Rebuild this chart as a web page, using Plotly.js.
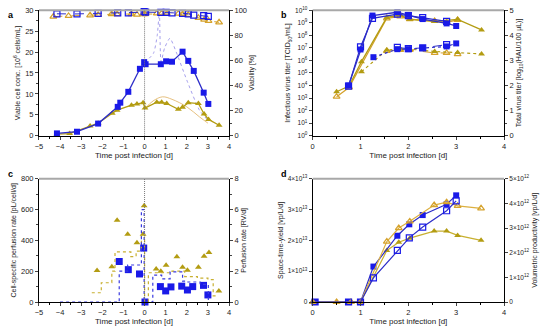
<!DOCTYPE html>
<html><head><meta charset="utf-8">
<script src="https://cdn.plot.ly/plotly-3.0.1.min.js"></script>
<style>body{margin:0;background:#fff}#plot{width:550px;height:330px}</style>
</head><body><div id="plot"></div><script>
// ---------- Panel a ----------
const aBlueX = [-4.15, -3.2, -2.2, -1.27, -1.15, -0.77, -0.22, -0.02, 0.05, 0.77, 1.02, 1.3, 1.8, 2.07, 2.33, 2.8, 3.02];
const aBlueY = [0.55, 0.95, 2.9, 6.9, 7.9, 10.5, 16.0, 17.6, 17.1, 17.1, 17.8, 17.7, 20.1, 17.9, 15.5, 10.3, 7.6];
const aGoldX = [-4.15, -3.55, -2.58, -2.2, -1.53, -1.3, -0.62, -0.36, -0.07, 0.02, 0.58, 0.81, 1.05, 1.6, 1.8, 2.07, 2.55, 2.82, 3.03, 3.53];
const aGoldY = [0.4, 0.5, 2.3, 3.0, 5.4, 6.1, 7.3, 7.6, 7.9, 6.6, 8.0, 8.0, 7.7, 6.3, 6.8, 7.9, 7.7, 5.2, 3.9, 2.5];
const aBlueViabX = [-4.15, -3.2, -2.2, -1.27, -0.77, -0.02, 0.05, 0.77, 1.02, 1.3, 1.8, 2.07, 2.33, 2.8, 3.02];
const aBlueViabY = [97.2, 97.1, 97.6, 98.0, 98.0, 98.9, 98.5, 98.3, 98.3, 98.0, 97.6, 97.2, 96.2, 95.8, 95.2];
const aGoldViabX = [-4.32, -3.6, -2.58, -2.2, -1.56, -1.3, -0.62, -0.36, -0.07, 0.02, 0.58, 0.81, 1.05, 1.6, 1.8, 2.07, 2.55, 2.82, 3.03, 3.53];
const aGoldViabY = [95.0, 95.5, 96.0, 96.3, 97.0, 97.0, 97.0, 96.6, 97.0, 97.0, 97.6, 97.6, 97.4, 97.4, 97.0, 96.4, 94.0, 92.5, 91.6, 90.4];
const aThinBlueX = [0, 0.42, 0.6, 0.7, 0.78, 0.95, 1.2, 1.5, 2.0, 2.6, 3.0];
const aThinBlueY = [17.5, 19.7, 24, 29.5, 17.7, 21, 23.3, 20, 13.3, 6.1, 3.7];
const aThinGoldX = [0, 0.4, 0.85, 1.3, 2.0, 2.6, 3.0];
const aThinGoldY = [6.4, 8.3, 9.3, 8.7, 6.9, 4.5, 3.0];

// ---------- Panel b ----------
const bBlueX = [0.75, 1.0, 1.25, 1.77, 2.0, 2.3, 2.8, 3.0];
const bBlueFilled = [1.0e4, 7.5e6, 3.8e9, 7.0e9, 4.3e9, 2.0e9, 9.0e8, 5.6e8];
const bBlueOpenX = [0.75, 1.0, 1.25, 1.77, 2.0, 2.3, 2.8];
const bBlueOpen = [9.0e3, 1.2e7, 2.3e9, 5.0e9, 3.8e9, 2.6e9, 1.3e9];
const bGoldX = [0.5, 0.76, 1.02, 1.55, 1.83, 2.03, 2.55, 3.03, 3.53];
const bGoldFilled = [3.2e3, 9.0e3, 8.0e5, 2.7e9, 4.2e9, 1.9e9, 1.3e9, 1.9e9, 2.7e8];
const bGoldOpenX = [0.5, 0.76, 1.55, 1.83, 2.03, 2.55, 2.8, 3.03];
const bGoldOpen = [1.3e3, 7.0e3, 2.3e9, 3.2e9, 2.0e9, 1.4e9, 1.1e9, 1.7e9];
const bBlueTotX = [1.27, 1.77, 2.0, 2.3, 2.8, 3.0];
const bBlueTot = [3.13, 3.45, 3.45, 3.5, 3.56, 3.68];
const bBlueTotOpenX = [1.77, 2.0, 2.3, 2.8];
const bBlueTotOpen = [3.52, 3.47, 3.5, 3.63];
const bGoldTotX = [1.02, 1.55, 1.83, 2.03, 2.55, 3.03, 3.53];
const bGoldTot = [2.55, 3.42, 3.45, 3.45, 3.36, 3.32, 3.26];
const bGoldTotOpenX = [1.55, 1.83, 2.03, 2.55, 2.8, 3.03];
const bGoldTotOpen = [3.38, 3.42, 3.42, 3.3, 3.3, 3.25];

// ---------- Panel c ----------
const cGoldX = [-2.25, -1.55, -1.3, -0.8, -0.36, -0.07, -0.02, 0.55, 0.77, 1.02, 1.53, 1.8, 2.03, 2.55, 2.82, 3.05, 3.52];
const cGoldY = [205, 228, 530, 440, 385, 440, 625, 215, 200, 238, 293, 226, 206, 226, 297, 322, 72];
const cBlueX = [-1.2, -0.77, -0.24, -0.04, 0.02, 0.75, 1.0, 1.25, 1.76, 2.03, 2.28, 2.79, 3.0];
const cBlueY = [263, 210, 182, 350, 0, 100, 72, 98, 103, 78, 100, 108, 46];
const cBlueRateX = [-4, -1.2, -0.8, -0.15, -0.02, 0.39, 0.81, 1.21, 1.8, 2.0, 2.63, 3.02];
const cBlueRateY = [0, 2.0, 2.4, 6.0, 0, 1.75, 1.5, 1.95, 1.35, 1.3, 1.15, 0];
const cGoldRateX = [-2.5, -2.05, -1.55, -1.4, -0.65, -0.4, -0.15, 0.0, 0.18, 1.3, 1.9, 2.5, 3.0, 3.25, 3.45];
const cGoldRateY = [0.6, 1.25, 2.0, 3.25, 2.95, 3.3, 4.4, 0, 1.9, 2.0, 1.65, 1.55, 1.45, 0.4, 0.4];

// ---------- Panel d ----------
const dBlueX = [0.05, 0.75, 1.0, 1.27, 1.77, 2.02, 2.3, 2.8, 3.0];
const dBlueSTY = [0, 0, 0, 1.15e13, 2.15e13, 2.52e13, 2.82e13, 3.17e13, 3.46e13];
const dBlueVP = [0, 0, 0, 0.98e12, 2.09e12, 2.6e12, 3.04e12, 3.7e12, 4.1e12];
const dGoldX = [0, 0.5, 0.8, 1.0, 1.55, 1.8, 2.03, 2.54, 2.8, 3.03, 3.52];
const dGoldSTY = [0, 0, 0, 0, 1.67e13, 1.94e13, 2.07e13, 2.3e13, 2.3e13, 2.16e13, 2.0e13];
const dGoldVP = [0, 0, 0, 0, 2.45e12, 3.0e12, 3.27e12, 3.93e12, 4.05e12, 3.9e12, 3.8e12];

const BLUE = '#1a1ae8', BLUEL = '#2d2dc8', GOLD = '#b39c12', GOLDO = '#d5a22c', THINB = '#8e86e6', THING = '#e0b060';
const FONT = 'Liberation Sans, Arial, sans-serif';

function tr(x, y, xa, ya, o) {
  return Object.assign({x: x, y: y, xaxis: xa, yaxis: ya, type: 'scatter', mode: 'lines+markers', showlegend: false, cliponaxis: false}, o);
}
const sqF = c => ({symbol: 'square', size: 6, color: c});
const sqO = c => ({symbol: 'square-open', size: 6, color: c, line: {width: 1.2, color: c}});
const trF = c => ({symbol: 'triangle-up', size: 6, color: c});
const trO = c => ({symbol: 'triangle-up-open', size: 6, color: c, line: {width: 1.2, color: c}});

const data = [
  // a
  tr(aThinBlueX, aThinBlueY, 'x', 'y', {mode: 'lines', line: {color: THINB, width: 0.8, dash: 'dot', shape: 'spline', smoothing: 0.6}}),
  tr(aThinGoldX, aThinGoldY, 'x', 'y', {mode: 'lines', line: {color: THING, width: 0.8, shape: 'spline'}}),
  tr(aGoldX, aGoldY, 'x', 'y', {line: {color: GOLD, width: 1.3}, marker: trF(GOLD)}),
  tr(aBlueX, aBlueY, 'x', 'y', {line: {color: BLUEL, width: 1.3}, marker: sqF(BLUE)}),
  tr(aGoldViabX, aGoldViabY, 'x', 'y2', {line: {color: GOLDO, width: 1, dash: 'dash'}, marker: trO(GOLDO)}),
  tr(aBlueViabX, aBlueViabY, 'x', 'y2', {line: {color: BLUEL, width: 1, dash: 'dash'}, marker: sqO(BLUE)}),
  // b
  tr(bGoldOpenX, bGoldOpen, 'x2', 'y3', {line: {color: GOLDO, width: 1.2}, marker: trO(GOLDO)}),
  tr(bGoldX, bGoldFilled, 'x2', 'y3', {line: {color: GOLD, width: 1.3}, marker: trF(GOLD)}),
  tr(bBlueOpenX, bBlueOpen, 'x2', 'y3', {line: {color: BLUEL, width: 1.2}, marker: sqO(BLUE)}),
  tr(bBlueX, bBlueFilled, 'x2', 'y3', {line: {color: BLUEL, width: 1.3}, marker: sqF(BLUE)}),
  tr(bGoldTotOpenX, bGoldTotOpen, 'x2', 'y4', {line: {color: GOLDO, width: 1, dash: 'dash'}, marker: trO(GOLDO)}),
  tr(bGoldTotX, bGoldTot, 'x2', 'y4', {line: {color: GOLD, width: 1.2, dash: 'dot'}, marker: trF(GOLD)}),
  tr(bBlueTotOpenX, bBlueTotOpen, 'x2', 'y4', {line: {color: BLUEL, width: 1, dash: 'dash'}, marker: sqO(BLUE)}),
  tr(bBlueTotX, bBlueTot, 'x2', 'y4', {line: {color: BLUEL, width: 1.2, dash: 'dot'}, marker: sqF(BLUE)}),
  // c
  tr(cGoldRateX, cGoldRateY, 'x3', 'y6', {mode: 'lines', line: {color: '#c8b030', width: 1.2, dash: 'dot', shape: 'hv'}}),
  tr(cBlueRateX, cBlueRateY, 'x3', 'y6', {mode: 'lines', line: {color: '#3a3ae0', width: 1.2, dash: 'dot', shape: 'hv'}}),
  tr(cGoldX, cGoldY, 'x3', 'y5', {mode: 'markers', marker: trF(GOLD)}),
  tr(cBlueX, cBlueY, 'x3', 'y5', {mode: 'markers', marker: {symbol: 'square', size: 7, color: BLUE}}),
  // d
  tr(dGoldX, dGoldVP, 'x4', 'y8', {line: {color: '#dcb040', width: 1.2}, marker: trO(GOLDO)}),
  tr(dGoldX, dGoldSTY, 'x4', 'y7', {line: {color: '#c8b030', width: 1.2}, marker: trF(GOLD)}),
  tr(dBlueX, dBlueVP, 'x4', 'y8', {line: {color: BLUEL, width: 1.2}, marker: sqO(BLUE)}),
  tr(dBlueX, dBlueSTY, 'x4', 'y7', {line: {color: BLUEL, width: 1.2}, marker: sqF(BLUE)})
];

const XA = [0.0709, 0.4164], XB = [0.5685, 0.9164];
const YT = [0.5888, 0.9688], YB = [0.0848, 0.4585];
const tf = {family: FONT, size: 7.5, color: '#222'};
const tfs = {family: FONT, size: 6.5, color: '#222'};
const ttf = {family: FONT, size: 8, color: '#222'};
const ttfy = {family: FONT, size: 7, color: '#222'};
function xax(dom, anchor, range) {
  return {domain: dom, anchor: anchor, range: range, dtick: 1, tick0: 0, showgrid: false, zeroline: false,
    showline: true, linecolor: '#000', linewidth: 1, ticks: 'outside', ticklen: 3, tickwidth: 1,
    minor: {ticks: 'outside', ticklen: 2, dtick: 0.5, tickcolor: '#000'},
    tickfont: tf, title: {text: 'Time post infection [d]', font: ttf, standoff: 1}};
}
function yax(dom, anchor, range, dtick, title, extra) {
  return Object.assign({domain: dom, anchor: anchor, range: range, dtick: dtick, showgrid: false, zeroline: false,
    showline: true, linecolor: '#000', linewidth: 1, ticks: 'outside', ticklen: 3, tickwidth: 1,
    tickfont: tf, title: {text: title, font: ttfy, standoff: 3}}, extra || {});
}
const pow10 = [0,1,2,3,4,5,6,7,8,9,10];
const layout = {
  width: 550, height: 330, margin: {l: 0, r: 0, t: 0, b: 0},
  paper_bgcolor: '#fff', plot_bgcolor: '#fff', font: {family: FONT, size: 8, color: '#222'},
  showlegend: false,
  xaxis: xax(XA, 'y', [-5, 4]),
  xaxis2: xax(XB, 'y3', [0, 4]),
  xaxis3: xax(XA, 'y5', [-5, 4]),
  xaxis4: xax(XB, 'y7', [0, 4]),
  yaxis: yax(YT, 'x', [0, 30], 5, 'Viable cell conc. [10<sup>6</sup> cells/mL]', {minor: {ticks: 'outside', ticklen: 2, dtick: 2.5}}),
  yaxis2: yax(YT, 'x', [0, 100], 20, 'Viability [%]', {overlaying: 'y', side: 'right', minor: {ticks: 'outside', ticklen: 2, dtick: 10}}),
  yaxis3: yax(YT, 'x2', [0, 10], null, 'Infectious virus titer [TCID<sub>50</sub>/mL]',
    {type: 'log', tickvals: pow10.map(p => Math.pow(10, p)), ticktext: pow10.map(p => '10<sup>' + p + '</sup>'), tickfont: tfs}),
  yaxis4: yax(YT, 'x2', [0, 5], 1, 'Total virus titer [log<sub>10</sub>(HAU/100 µL)]', {overlaying: 'y3', side: 'right', minor: {ticks: 'outside', ticklen: 2, dtick: 0.5}}),
  yaxis5: yax(YB, 'x3', [0, 800], 200, 'Cell-specific perfusion rate [pL/cell/d]', {minor: {ticks: 'outside', ticklen: 2, dtick: 100}}),
  yaxis6: yax(YB, 'x3', [0, 8], 2, 'Perfusion rate [RV/d]', {overlaying: 'y5', side: 'right', minor: {ticks: 'outside', ticklen: 2, dtick: 1}}),
  yaxis7: yax(YB, 'x4', [0, 4e13], null, 'Space-time-yield [vp/L/d]',
    {tickvals: [0, 1e13, 2e13, 3e13, 4e13], ticktext: ['0', '1×10<sup>13</sup>', '2×10<sup>13</sup>', '3×10<sup>13</sup>', '4×10<sup>13</sup>'], tickfont: tfs}),
  yaxis8: yax(YB, 'x4', [0, 5e12], null, 'Volumetric productivity [vp/L/d]',
    {overlaying: 'y7', side: 'right', tickvals: [0, 1e12, 2e12, 3e12, 4e12, 5e12], ticktext: ['0', '1×10<sup>12</sup>', '2×10<sup>12</sup>', '3×10<sup>12</sup>', '4×10<sup>12</sup>', '5×10<sup>12</sup>'], tickfont: tfs}),
  shapes: [
    {type: 'line', xref: 'x domain', yref: 'y domain', x0: 0, x1: 1, y0: 1, y1: 1, line: {color: '#a8a8a8', width: 2}},
    {type: 'line', xref: 'x2 domain', yref: 'y3 domain', x0: 0, x1: 1, y0: 1, y1: 1, line: {color: '#a8a8a8', width: 2}},
    {type: 'line', xref: 'x3 domain', yref: 'y5 domain', x0: 0, x1: 1, y0: 1, y1: 1, line: {color: '#a8a8a8', width: 2}},
    {type: 'line', xref: 'x4 domain', yref: 'y7 domain', x0: 0, x1: 1, y0: 1, y1: 1, line: {color: '#a8a8a8', width: 2}},
    {type: 'line', xref: 'x', yref: 'y domain', x0: 0, x1: 0, y0: 0, y1: 1, line: {color: '#777', width: 1, dash: '1px,1px'}},
    {type: 'line', xref: 'x3', yref: 'y5 domain', x0: 0, x1: 0, y0: 0, y1: 1, line: {color: '#777', width: 1, dash: '1px,1px'}}
  ],
  annotations: [
    {text: '<b>a</b>', xref: 'paper', yref: 'paper', x: 6/550, y: 1 - 8/330, showarrow: false, font: {family: FONT, size: 9, color: '#000'}},
    {text: '<b>b</b>', xref: 'paper', yref: 'paper', x: 284/550, y: 1 - 8/330, showarrow: false, font: {family: FONT, size: 9, color: '#000'}},
    {text: '<b>c</b>', xref: 'paper', yref: 'paper', x: 6/550, y: 1 - 174/330, showarrow: false, font: {family: FONT, size: 9, color: '#000'}},
    {text: '<b>d</b>', xref: 'paper', yref: 'paper', x: 284/550, y: 1 - 174/330, showarrow: false, font: {family: FONT, size: 9, color: '#000'}}
  ]
};
Plotly.newPlot('plot', data, layout, {displayModeBar: false});
</script></body></html>
